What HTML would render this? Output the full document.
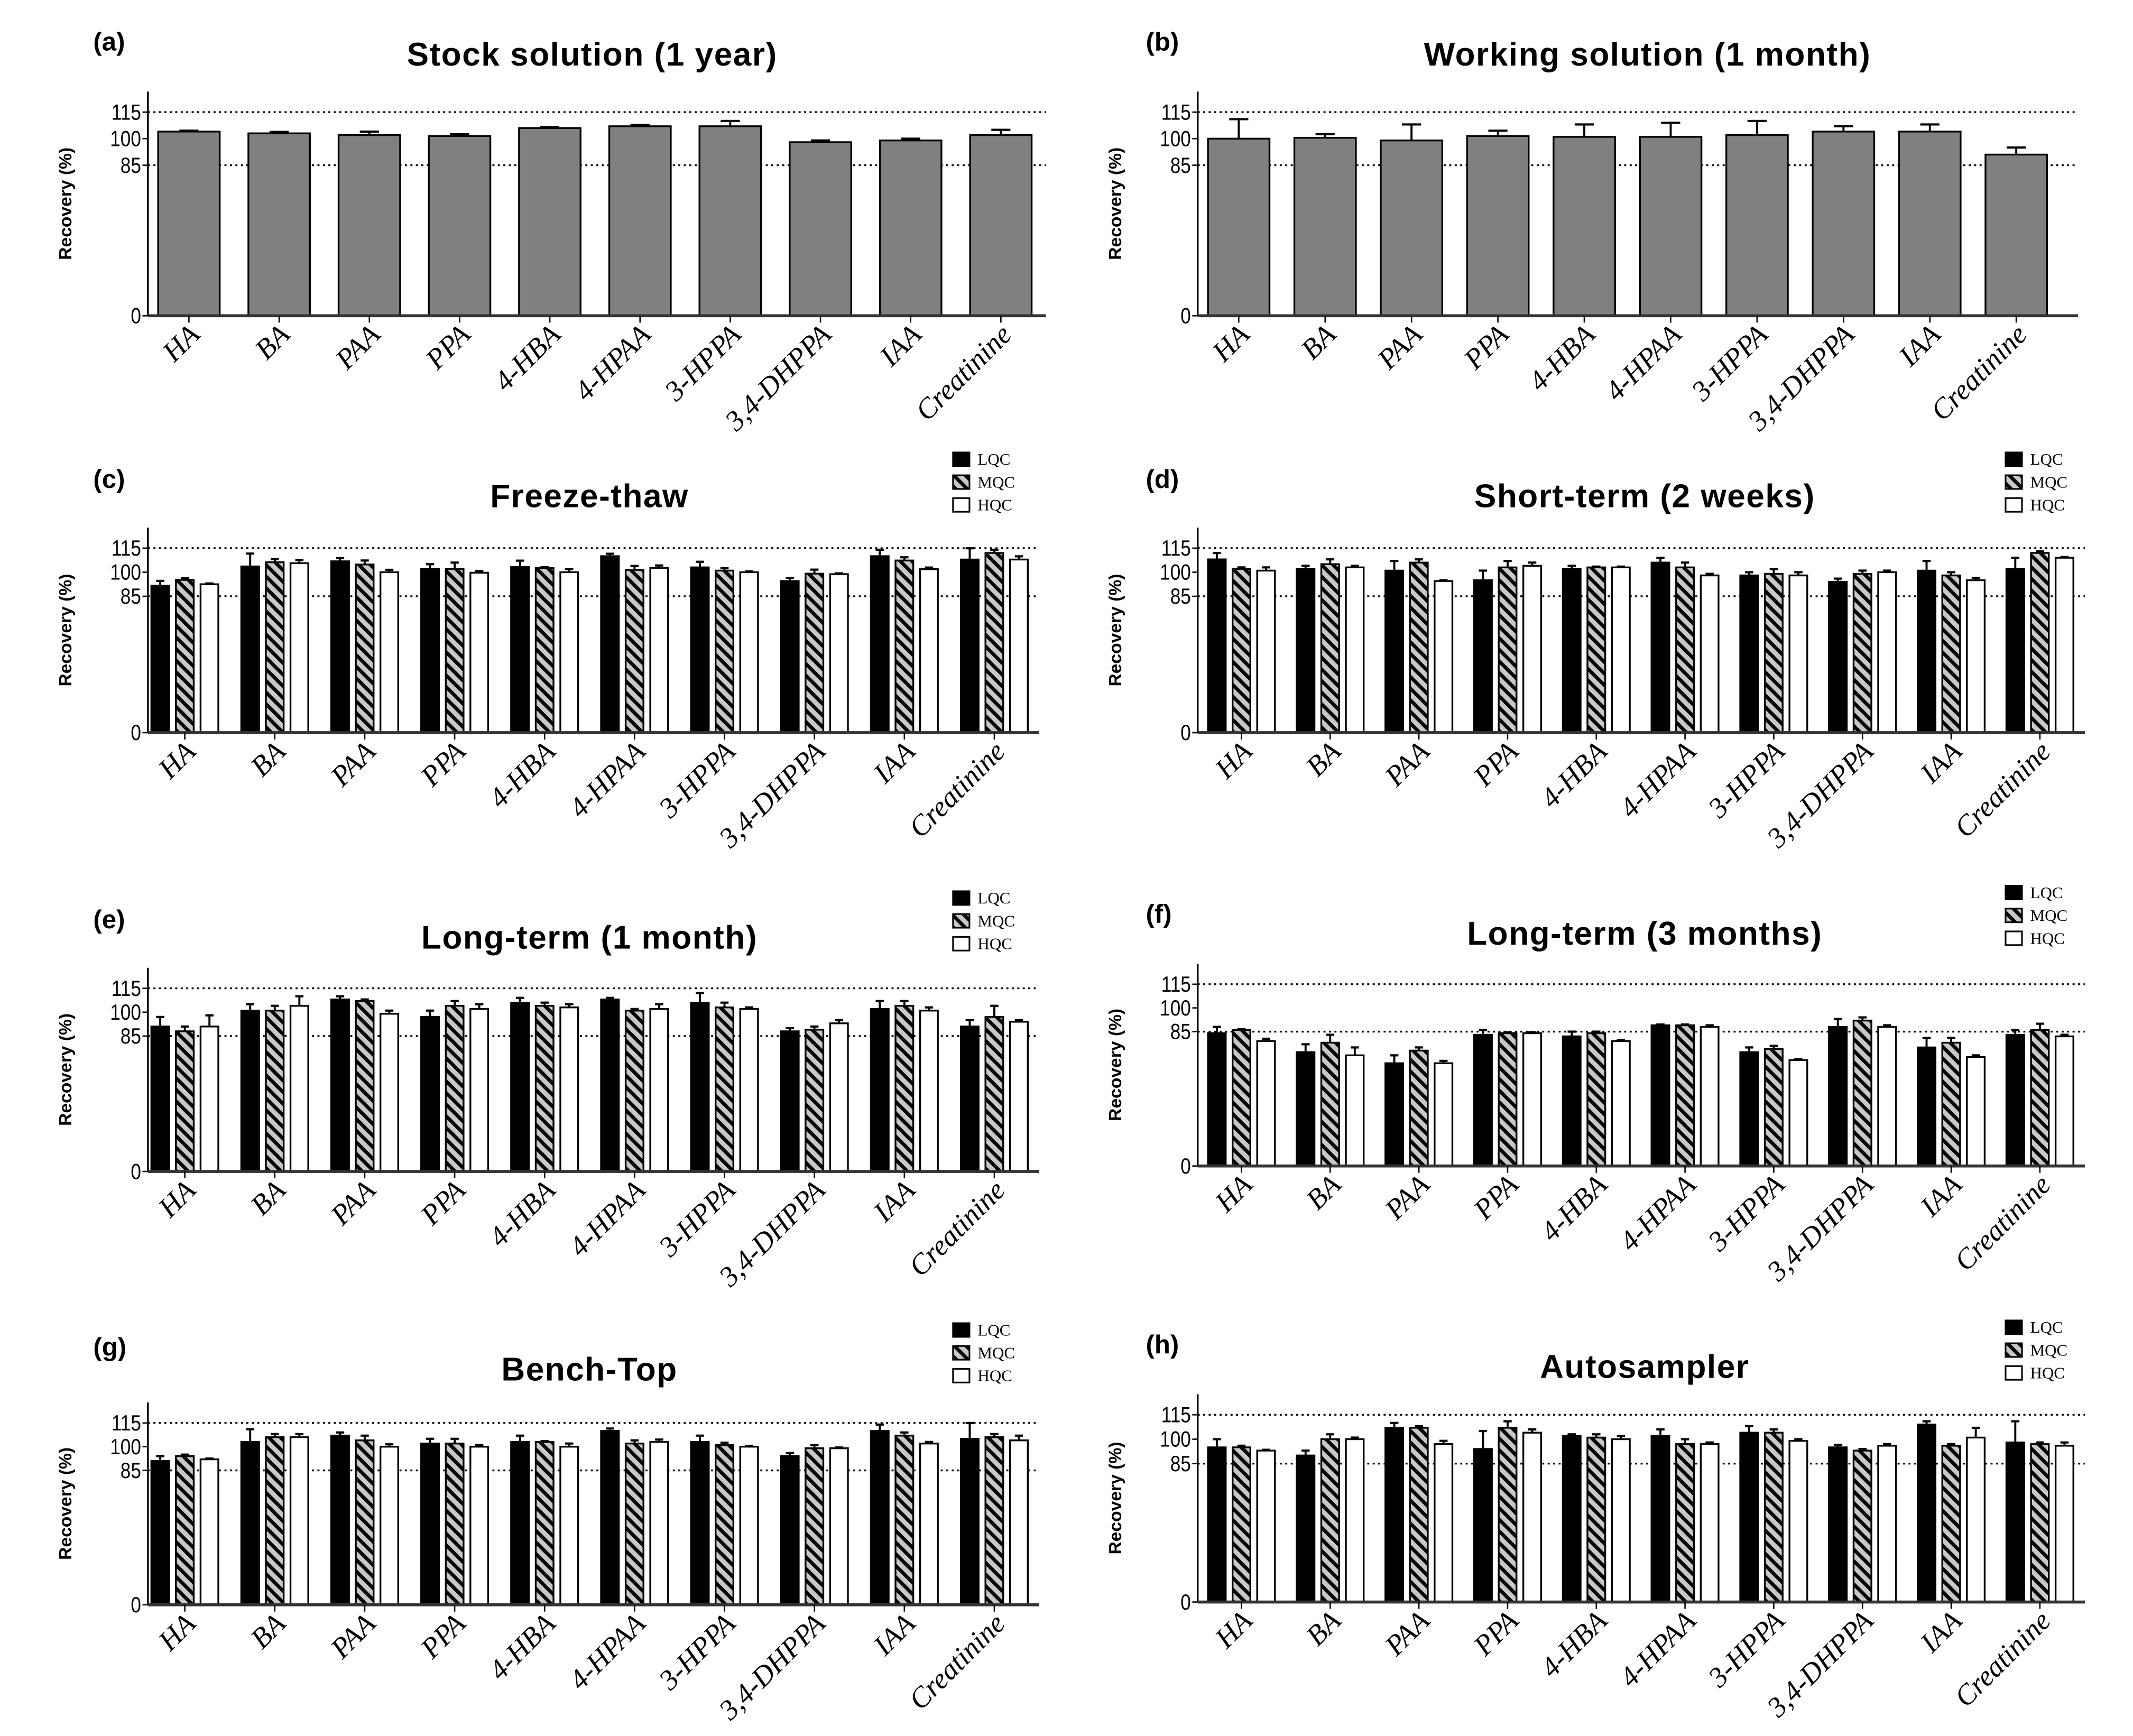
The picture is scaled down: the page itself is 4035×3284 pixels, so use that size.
<!DOCTYPE html>
<html><head><meta charset="utf-8">
<style>
html,body{margin:0;padding:0;background:#fff;}
svg{display:block;}
</style></head>
<body>
<svg id="fig" xmlns="http://www.w3.org/2000/svg" width="4035" height="3284" viewBox="0 0 1560 1270">
<defs>
<pattern id="hatch" patternUnits="userSpaceOnUse" width="6" height="6" patternTransform="rotate(-45)">
<rect width="6" height="6" fill="#c8c8c8"/>
<rect x="0" y="0" width="2.6" height="6" fill="#000"/>
</pattern>
</defs>
</svg>
<script>
const categories = ["HA","BA","PAA","PPA","4-HBA","4-HPAA","3-HPPA","3,4-DHPPA","IAA","Creatinine"];
const yTicks = [0,85,100,115];
const seriesNames = ["LQC","MQC","HQC"];

const aVals = [104,103,102,101.5,106,107,107,98,99,102];
const aErr  = [0.5,0.8,2,1,0.5,0.8,3,1,1,3];
const bVals = [100,100.5,99,101.5,101,101,102,104,104,91];
const bErr  = [11,2,9,3,7,8,8,3,4,4];

const cL = [91.6,103.6,106.8,102,103.2,110,103,94.5,110,107.9];
const cLe= [3,8,2,3,4,1.5,3.5,2,4,7];
const cM = [95.2,106.2,104.8,102,102.6,101.4,101,99.1,107.3,112];
const cMe= [1,2,2.5,4,0.5,2.5,1.5,2.5,2,2];
const cH = [92.5,105.6,100,99.7,100,102.7,100,98.8,101.9,107.9];
const cHe= [0.5,2,1.5,1,2,1.5,0.5,0.5,1,2];

const dL = [108,102,101,95,102,106,98,94,101,102];
const dLe= [4,2,6,6,2,3,2,2,6,7];
const dM = [102,105,106,103,103,103,99,99,98,112];
const dMe= [1,3,2,4,0.5,3,3,2,2,1];
const dH = [101,103,94.5,104,103,98,98,100,95,109];
const dHe= [2,1,0.5,2,0.5,1,2,1,1.5,0.5];

const eL = [91,101,108,97,106,108,106,88,102,91];
const eLe= [6,4,2,4,3,1,6,2,5,4];
const eM = [88,101,107,104,104,101,103,89,104,97];
const eMe= [3,3,1,3,2,1,3,2,3,7];
const eH = [91,104,99,102,103,102,102,93,101,94];
const eHe= [7,6,2,3,2,3,1,2,2,1];

const fL = [84,72,65,83,82,89,72,88,75,83];
const fLe= [4,5,5,3,3,0.5,3,5,6,3];
const fM = [86,78,73,84,84,89,74,92,78,86];
const fMe= [0.5,5,2,0.5,1,0.5,2,2,3,4];
const fH = [79,70,65,84,79,88,67,88,69,82];
const fHe= [1.5,5,1.5,0.5,0.5,1,0.5,1,1,1];

const gL = [91,103,107,102,103,110,103,94,110,105];
const gLe= [3,8,2,3,4,1.5,4,2,4,10];
const gM = [94,106,104,102,103,102,101,99,107,106];
const gMe= [1,2,3,3,0.5,2,1.5,2,2,2];
const gH = [92,106,100,100,100,103,100,99,102,104];
const gHe= [0.5,2,1.5,1,2,1.5,0.5,0.5,1,3];

const hL = [95,90,107,94,102,102,104,95,109,98];
const hLe= [5,3,3,11,1,4,4,1.5,2,13];
const hM = [95,100,107,107,101,97,104,93,96,97];
const hMe= [1,3,1,4,2,3,2,1,1,1];
const hH = [93,100,97,104,100,97,99,96,101,96];
const hHe= [0.5,1,2,2,2,1,1,1,6,2];

const panels = [
 {id:"a",label:"(a)",title:"Stock solution (1 year)",ax0:108,ax1:765,base:231,y115:82,c0:138,sp:66,tx:433,ty:40,lx:68,ly:30,single:true,vals:[aVals],errs:[aErr]},
 {id:"b",label:"(b)",title:"Working solution (1 month)",ax0:876,ax1:1520,base:231,y115:82,c0:906,sp:63.2,tx:1205,ty:40,lx:838,ly:30,single:true,vals:[bVals],errs:[bErr]},
 {id:"c",label:"(c)",title:"Freeze-thaw",ax0:108,ax1:760,base:536,y115:401,c0:135,sp:65.8,tx:431,ty:363,lx:68,ly:350,legx:697,legy:336,vals:[cL,cM,cH],errs:[cLe,cMe,cHe]},
 {id:"d",label:"(d)",title:"Short-term (2 weeks)",ax0:876,ax1:1525,base:536,y115:401,c0:908,sp:64.9,tx:1203,ty:363,lx:838,ly:350,legx:1467,legy:336,vals:[dL,dM,dH],errs:[dLe,dMe,dHe]},
 {id:"e",label:"(e)",title:"Long-term (1 month)",ax0:108,ax1:760,base:857,y115:723,c0:135,sp:65.8,tx:431,ty:686,lx:68,ly:672,legx:697,legy:657,vals:[eL,eM,eH],errs:[eLe,eMe,eHe]},
 {id:"f",label:"(f)",title:"Long-term (3 months)",ax0:876,ax1:1525,base:853,y115:720,c0:908,sp:64.9,tx:1203,ty:683,lx:838,ly:668,legx:1467,legy:653,vals:[fL,fM,fH],errs:[fLe,fMe,fHe]},
 {id:"g",label:"(g)",title:"Bench-Top",ax0:108,ax1:760,base:1174,y115:1041,c0:135,sp:65.8,tx:431,ty:1002,lx:68,ly:985,legx:697,legy:973,vals:[gL,gM,gH],errs:[gLe,gMe,gHe]},
 {id:"h",label:"(h)",title:"Autosampler",ax0:876,ax1:1525,base:1172,y115:1035,c0:908,sp:64.9,tx:1203,ty:1000,lx:838,ly:983,legx:1467,legy:971,vals:[hL,hM,hH],errs:[hLe,hMe,hHe]}
];

const NS="http://www.w3.org/2000/svg";
const svg=document.getElementById("fig");
function mk(tag,attrs,parent){const e=document.createElementNS(NS,tag);for(const k in attrs)e.setAttribute(k,attrs[k]);(parent||svg).appendChild(e);return e;}
const fills=["#000","url(#hatch)","#fff"];

panels.forEach(p=>{
  const g=mk("g",{});
  
  
  const k=(p.base-p.y115)/115;
  const yS=v=>p.base-v*k;
  const xS=i=>p.c0+i*p.sp;
  const top=p.y115-15;

  const lab=mk("text",{x:p.lx,y:p.ly+7,"font-family":"Liberation Sans, sans-serif","font-weight":"bold","font-size":"19"},g);
  lab.textContent=p.label;
  
  
  const t=mk("text",{x:p.tx,y:p.ty+8,"text-anchor":"middle","font-family":"Liberation Sans, sans-serif","font-weight":"bold","font-size":"24","letter-spacing":"0.6"},g);
  t.textContent=p.title;
  
  

  const yl=mk("text",{transform:`translate(${p.ax0-56},${(p.base+top)/2}) rotate(-90)`,"text-anchor":"middle","font-family":"Liberation Sans, sans-serif","font-weight":"bold","font-size":"13"},g);
  yl.textContent="Recovery (%)";
  
  

  [85,115].forEach(v=>{
    const l=mk("line",{x1:p.ax0,x2:p.ax1,y1:yS(v),y2:yS(v),stroke:"#000","stroke-width":"1.3","stroke-dasharray":"1.5,2.5"},g);
    
    
  });

  yTicks.forEach(v=>{
    mk("line",{x1:p.ax0-4,x2:p.ax0,y1:yS(v),y2:yS(v),stroke:"#000","stroke-width":"1"},g);
    const tt=mk("text",{x:p.ax0-5,y:yS(v)+5.5,"text-anchor":"end","font-family":"Liberation Sans, sans-serif","font-size":"16",transform:`translate(${(p.ax0-5)*0.15},0) scale(0.85,1)`},g);
    tt.textContent=v;
    
    
  });

  p.vals.forEach((arr,s)=>{
    arr.forEach((v,i)=>{
      let bw,cx;
      if(p.single){bw=45;cx=xS(i);}else{bw=13;cx=xS(i)+(s-1)*18;}
      const e=p.errs[s][i];
      const el=mk("line",{x1:cx,x2:cx,y1:yS(v),y2:yS(v+e),stroke:"#000","stroke-width":"1.5"},g);
      
      
      const cw=p.single?7:3;
      mk("line",{x1:cx-cw,x2:cx+cw,y1:yS(v+e),y2:yS(v+e),stroke:"#000","stroke-width":"1.6"},g);
      const r=mk("rect",{x:cx-bw/2,y:yS(v),width:bw,height:p.base-yS(v),fill:p.single?"#808080":fills[s],stroke:"#000","stroke-width":"1.3"},g);
      
      
    });
  });

  mk("line",{x1:p.ax0,x2:p.ax0,y1:top,y2:p.base,stroke:"#000","stroke-width":"1.3"},g);
  const xa=mk("line",{x1:p.ax0,x2:p.ax1,y1:p.base,y2:p.base,stroke:"#333","stroke-width":"2.2"},g);
  
  

  categories.forEach((c,i)=>{
    const x=xS(i);
    mk("line",{x1:x,x2:x,y1:p.base,y2:p.base+5,stroke:"#000","stroke-width":"1"},g);
    const tx=mk("text",{transform:`translate(${x+9},${p.base+15}) rotate(-45)`,"text-anchor":"end","font-family":"Liberation Serif, serif","font-style":"italic","font-size":"21"},g);
    tx.textContent=c;
    
    
  });

  if(!p.single){
    seriesNames.forEach((nm,s)=>{
      const yy=p.legy+s*16.7;
      const lr=mk("rect",{x:p.legx,y:yy-5,width:12,height:10,fill:fills[s],stroke:"#000","stroke-width":"1.2"},g);
      
      
      const lt=mk("text",{x:p.legx+18,y:yy+4,"font-family":"Liberation Serif, serif","font-size":"12"},g);
      lt.textContent=nm;
      
      
    });
  }
});
</script>
</body></html>
